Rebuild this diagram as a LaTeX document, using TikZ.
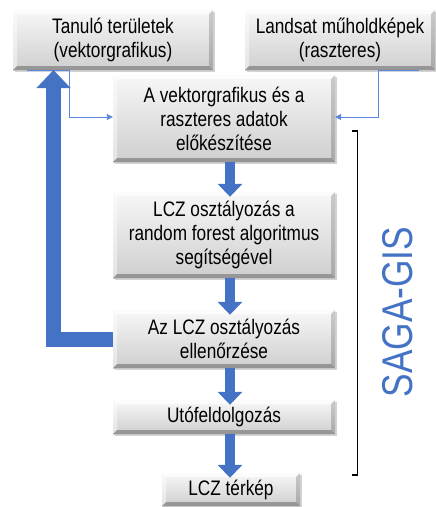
\documentclass[tikz,border=0pt]{standalone}
\usepackage{fontspec}
\setmainfont[FakeStretch=0.82]{Liberation Sans}
\newfontfamily\sagafont[FakeStretch=0.82]{Liberation Sans}
\usetikzlibrary{arrows.meta,shadows,calc}
\definecolor{officeblue}{HTML}{4472C4}
\definecolor{thinblue}{HTML}{5B86DC}
\tikzset{
  procbox/.style={shading=axis, top color=gray!6, bottom color=gray!38,
    drop shadow={shadow xshift=2pt, shadow yshift=-2pt, opacity=0.35},
    inner sep=0pt, align=center,
    font=\fontsize{21}{24}\selectfont,
    path picture={
      \coordinate (nw) at (path picture bounding box.north west);
      \coordinate (ne) at (path picture bounding box.north east);
      \coordinate (sw) at (path picture bounding box.south west);
      \coordinate (se) at (path picture bounding box.south east);
      \fill[white,opacity=.7] (nw) -- (ne) -- ([xshift=-4pt,yshift=-4pt]ne) -- ([xshift=4pt,yshift=-4pt]nw) -- cycle;
      \fill[white,opacity=.45] (nw) -- (sw) -- ([xshift=4pt,yshift=4pt]sw) -- ([xshift=4pt,yshift=-4pt]nw) -- cycle;
      \fill[black,opacity=.18] (ne) -- (se) -- ([xshift=-4pt,yshift=4pt]se) -- ([xshift=-4pt,yshift=-4pt]ne) -- cycle;
      \fill[black,opacity=.28] (sw) -- (se) -- ([xshift=-4pt,yshift=4pt]se) -- ([xshift=4pt,yshift=4pt]sw) -- cycle;
    }},
  bigarrow/.style={draw=officeblue, line width=10pt,
    -{Triangle[width=24pt,length=13pt]}, shorten >=-5pt},
  thinline/.style={draw=thinblue, line width=0.9pt},
  thinarrow/.style={thinline, -{Triangle[width=6pt,length=6pt]}},
}
\begin{document}
\begin{tikzpicture}[x=1pt,y=-1pt]
\useasboundingbox (0,0) rectangle (436,507);
% boxes
\node[procbox, minimum width=200pt, minimum height=60pt] (B1) at (113,40) {Tanuló területek\\(vektorgrafikus)};
\node[procbox, minimum width=190pt, minimum height=60pt] (B2) at (340,40) {Landsat műholdképek\\(raszteres)};
\node[procbox, minimum width=222pt, minimum height=87pt] (B3) at (224,118.5) {A vektorgrafikus és a\\raszteres adatok\\előkészítése};
\node[procbox, minimum width=222pt, minimum height=86pt] (B4) at (224,235) {LCZ osztályozás a\\random forest algoritmus\\segítségével};
\node[procbox, minimum width=222pt, minimum height=58pt] (B5) at (224,339) {Az LCZ osztályozás\\ellenőrzése};
\node[procbox, minimum width=222pt, minimum height=34pt] (B6) at (224,417) {Utófeldolgozás};
\node[procbox, minimum width=138pt, minimum height=33pt] (B7) at (231,489.5) {LCZ térkép};
% thin connectors
\coordinate (l1) at (27,70);
\coordinate (l2) at (69,70);
\coordinate (r1) at (419,70);
\coordinate (r2) at (378,70);
\draw[thinarrow] (l1) -- (l2) |- (B3.west |- 0,117);
\draw[thinarrow] (r1) -- (r2) |- (B3.east |- 0,117);
% big arrows
\draw[bigarrow] ([xshift=6pt]B3.south) -- ([xshift=6pt]B4.north);
\draw[bigarrow] ([xshift=6pt]B4.south) -- ([xshift=6pt]B5.north);
\draw[bigarrow] ([xshift=6pt]B5.south) -- ([xshift=6pt]B6.north);
\draw[bigarrow] ([xshift=6pt]B6.south) -- ([xshift=-1pt]B7.north);
% feedback arrow
\coordinate (fb) at (53.5,70);
\draw[draw=officeblue, line width=15pt, line join=miter,
  -{Triangle[width=33pt,length=18pt]}] (B5.west) -| (fb);
% bracket
\coordinate (k1) at (352,131);
\coordinate (k4) at (352,475);
\draw[black, line width=1.5pt] (k1) -- ++(5.5,0) |- (k4);
% label
\node[rotate=90, text=officeblue, font=\sagafont\fontsize{43}{43}\selectfont, inner sep=0pt] (saga) at (398,312) {SAGA-GIS};
\end{tikzpicture}
\end{document}
